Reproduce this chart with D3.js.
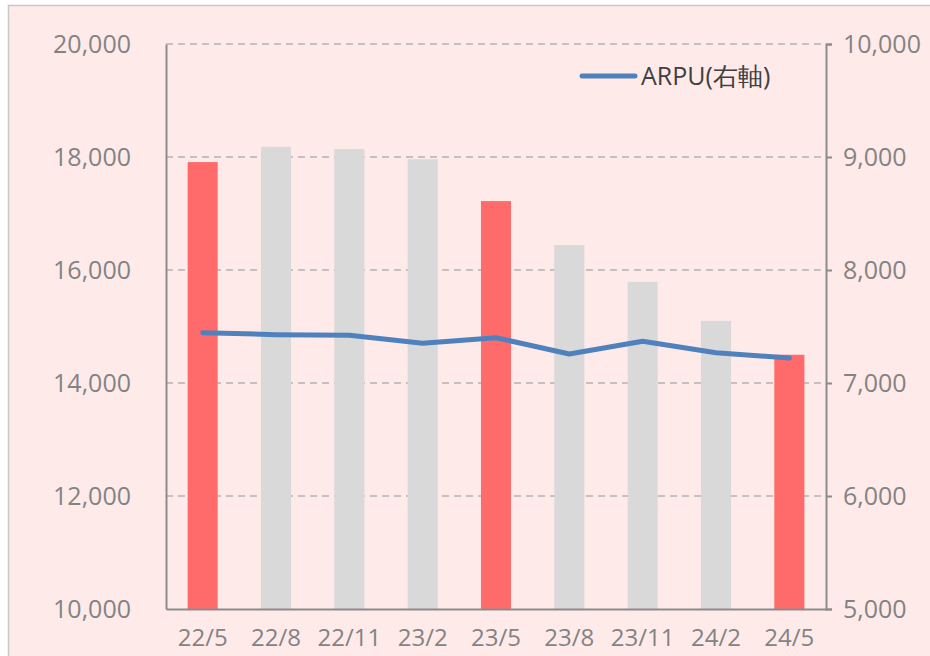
<!DOCTYPE html>
<html><head><meta charset="utf-8">
<script src="https://cdn.jsdelivr.net/npm/d3@7"></script>
<style>
html,body{margin:0;padding:0;background:#fff;}
svg{display:block;}
text{font-family:"Open Sans","Noto Sans",sans-serif;}
</style></head>
<body>
<svg id="c" width="930" height="656"></svg>
<script>
const categories = ["22/5","22/8","22/11","23/2","23/5","23/8","23/11","24/2","24/5"];
const barValues = [17910, 18180, 18140, 17960, 17220, 16440, 15790, 15100, 14500];
const highlighted = [true, false, false, false, true, false, false, false, true];
const arpuValues = [7445, 7428, 7422, 7351, 7401, 7257, 7369, 7268, 7221];
const leftTicks = [10000, 12000, 14000, 16000, 18000, 20000];
const rightTicks = [5000, 6000, 7000, 8000, 9000, 10000];
const legendLabel = "ARPU(右軸)";

const svg = d3.select("#c");
const W = 930, H = 656;
const m = {left:166, right:826, top:44, bottom:609};

svg.append("rect").attr("x",8.5).attr("y",5.5).attr("width",W).attr("height",H)
  .attr("fill","#FFEAEA").attr("stroke","#C8C8C8").attr("stroke-width",1.5);

const x = d3.scaleBand().domain(categories).range([m.left, m.right]).paddingInner(0.59).paddingOuter(0.295);
const yL = d3.scaleLinear().domain([10000,20000]).range([m.bottom, m.top]);
const yR = d3.scaleLinear().domain([5000,10000]).range([m.bottom, m.top]);

// gridlines
svg.append("g").selectAll("line").data(leftTicks.filter(d=>d>10000)).join("line")
  .attr("x1",m.left).attr("x2",m.right).attr("y1",d=>yL(d)).attr("y2",d=>yL(d))
  .attr("stroke","#C6C0C0").attr("stroke-width",2).attr("stroke-dasharray","7,5");

// bars
svg.append("g").selectAll("rect").data(categories).join("rect")
  .attr("x",d=>x(d)).attr("width",x.bandwidth())
  .attr("y",(d,i)=>yL(barValues[i])).attr("height",(d,i)=>m.bottom - yL(barValues[i]))
  .attr("fill",(d,i)=>highlighted[i] ? "#FF6B6B" : "#D9D9D9");

// axes
const fmt = d3.format(",");
const gL = svg.append("g").attr("transform",`translate(${m.left},0)`)
  .call(d3.axisLeft(yL).tickValues(leftTicks).tickFormat(fmt).tickSize(0).tickPadding(35));
const gR = svg.append("g").attr("transform",`translate(${m.right},0)`)
  .call(d3.axisRight(yR).tickValues(rightTicks).tickFormat(fmt).tickSize(6).tickPadding(11));
const gB = svg.append("g").attr("transform",`translate(0,${m.bottom})`)
  .call(d3.axisBottom(x).tickSize(0).tickPadding(20));
[gL,gR,gB].forEach(g=>{
  g.select(".domain").attr("stroke","#8C8C8C").attr("stroke-width",2);
  g.selectAll(".tick line").attr("stroke","#8C8C8C").attr("stroke-width",2);
  g.selectAll("text").attr("fill","#838383").attr("font-family","'Open Sans',sans-serif");
});
gL.selectAll("text").attr("font-size",25);
gR.selectAll("text").attr("font-size",25);
gB.selectAll("text").attr("font-size",24);

// line
const line = d3.line().x((d,i)=>x(categories[i]) + x.bandwidth()/2).y(d=>yR(d));
svg.append("path").datum(arpuValues).attr("d",line)
  .attr("fill","none").attr("stroke","#4F81BD").attr("stroke-width",5)
  .attr("stroke-linecap","round").attr("stroke-linejoin","round");

// legend
const lg = svg.append("g");
lg.append("line").attr("x1",582).attr("x2",635).attr("y1",76).attr("y2",76)
  .attr("stroke","#4F81BD").attr("stroke-width",5).attr("stroke-linecap","round");
lg.append("text").attr("x",641).attr("y",85).text(legendLabel)
  .attr("fill","#404040").attr("font-size",25)
  .attr("font-family","'Open Sans','Noto Sans CJK JP',sans-serif");
</script>
</body></html>
